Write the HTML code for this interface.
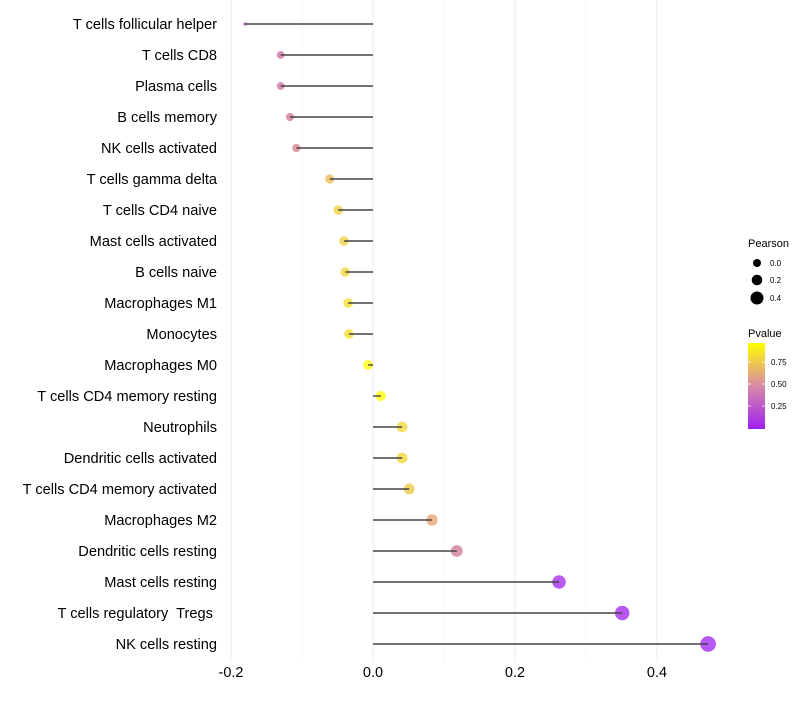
<!DOCTYPE html>
<html><head><meta charset="utf-8"><style>
body{margin:0;background:#fff;font-family:"Liberation Sans",sans-serif}
text{white-space:pre}
</style></head><body>
<svg id="chart" width="800" height="700" xmlns="http://www.w3.org/2000/svg">
<g id="grid"></g>
<g id="marks"></g>
<g id="labels"></g>
<g id="legend">
<defs><linearGradient id="pg" x1="0" y1="1" x2="0" y2="0">
<stop offset="0" stop-color="#a020f0"/><stop offset="0.5" stop-color="#d88aa8"/><stop offset="1" stop-color="#ffff00"/></linearGradient></defs>
<text x="748" y="247" font-size="11">Pearson</text>
<circle cx="757" cy="263" r="4" fill="#000"/>
<text x="770" y="266" font-size="8">0.0</text>
<circle cx="757" cy="280" r="5.3" fill="#000"/>
<text x="770" y="283" font-size="8">0.2</text>
<circle cx="757" cy="298" r="6.5" fill="#000"/>
<text x="770" y="301" font-size="8">0.4</text>
<text x="748" y="337" font-size="11">Pvalue</text>
<rect x="748" y="343" width="17" height="86" fill="url(#pg)"/>
<g stroke="#fff" stroke-width="0.8"><line x1="748" y1="362" x2="751" y2="362"/><line x1="762" y1="362" x2="765" y2="362"/><line x1="748" y1="384" x2="751" y2="384"/><line x1="762" y1="384" x2="765" y2="384"/><line x1="748" y1="406" x2="751" y2="406"/><line x1="762" y1="406" x2="765" y2="406"/></g>
<text x="771" y="365" font-size="8">0.75</text>
<text x="771" y="387" font-size="8">0.50</text>
<text x="771" y="409" font-size="8">0.25</text>
</g>
</svg>
<script>
const categories=["T cells follicular helper","T cells CD8","Plasma cells","B cells memory","NK cells activated","T cells gamma delta","T cells CD4 naive","Mast cells activated","B cells naive","Macrophages M1","Monocytes","Macrophages M0","T cells CD4 memory resting","Neutrophils","Dendritic cells activated","T cells CD4 memory activated","Macrophages M2","Dendritic cells resting","Mast cells resting","T cells regulatory  Tregs ","NK cells resting"];
const pearson=[-0.180,-0.130,-0.130,-0.117,-0.108,-0.061,-0.049,-0.041,-0.039,-0.035,-0.034,-0.007,0.011,0.041,0.041,0.051,0.083,0.118,0.262,0.351,0.472];
const pvalue=[0.2,0.4,0.4,0.45,0.48,0.72,0.8,0.8,0.82,0.85,0.85,0.97,0.97,0.82,0.82,0.77,0.62,0.45,0.04,0.02,0.0];
const xTicks=[-0.2,0,0.2,0.4];
const xTickLabels=["-0.2","0.0","0.2","0.4"];
const minorTicks=[-0.1,0.1,0.3];
const NS="http://www.w3.org/2000/svg";
const xs=v=>373+v*710;
const ys=i=>24+i*31;
const rs=v=>v<-0.15?1.8:0.6+Math.sqrt(Math.max(2.25,16+68*(v+0.06)));
function lerp(a,b,t){return a.map((x,i)=>Math.round(x+(b[i]-x)*t));}
function col(p){const s=[[160,32,240],[216,128,140],[255,255,0]];const t=Math.max(0,Math.min(1,(p-0.02)/0.96));const c=t<0.5?lerp(s[0],s[1],t*2):lerp(s[1],s[2],(t-0.5)*2);return `rgb(${c})`;}
function mk(tag,attrs,parent){const e=document.createElementNS(NS,tag);for(const k in attrs)e.setAttribute(k,attrs[k]);parent.appendChild(e);return e;}
const grid=document.getElementById('grid'),marks=document.getElementById('marks'),labels=document.getElementById('labels');
minorTicks.forEach(v=>{const l=mk('line',{x1:xs(v),x2:xs(v),y1:0,y2:662,stroke:'#f2f2f2','stroke-width':0.6},grid);

});
xTicks.forEach((v,i)=>{const l=mk('line',{x1:xs(v),x2:xs(v),y1:0,y2:662,stroke:'#ebebeb','stroke-width':1},grid);


const t=mk('text',{x:xs(v),y:677,'font-size':14.5,'text-anchor':'middle',fill:'#000'},labels);t.textContent=xTickLabels[i];

});
categories.forEach((c,i)=>{const y=ys(i);
const t=mk('text',{x:217,y:y+5,'font-size':14.6,'text-anchor':'end',fill:'#000'},labels);t.textContent=c;


const p=mk('circle',{cx:xs(pearson[i]),cy:y,r:rs(pearson[i]),fill:col(pvalue[i]),'fill-opacity':0.75},marks);


const l=mk('line',{x1:xs(0),x2:xs(pearson[i]),y1:y,y2:y,stroke:'#444','stroke-width':1.4},marks);

});
</script>
</body></html>
